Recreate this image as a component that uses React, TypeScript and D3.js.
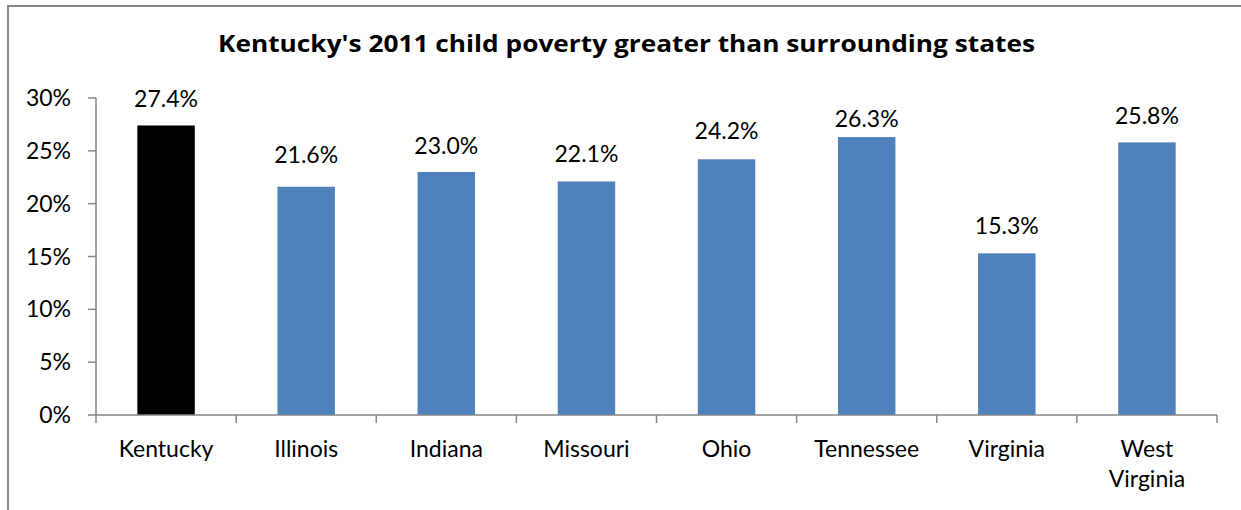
import React from "react";
import * as d3 from "d3";

const categories = ["Kentucky", "Illinois", "Indiana", "Missouri", "Ohio", "Tennessee", "Virginia", "West Virginia"];
const values = [27.4, 21.6, 23.0, 22.1, 24.2, 26.3, 15.3, 25.8];
const yTicks = [0, 5, 10, 15, 20, 25, 30];
const barColors = ["#000000", "#4F81BD", "#4F81BD", "#4F81BD", "#4F81BD", "#4F81BD", "#4F81BD", "#4F81BD"];
const labelLines: string[][] = [["Kentucky"], ["Illinois"], ["Indiana"], ["Missouri"], ["Ohio"], ["Tennessee"], ["Virginia"], ["West", "Virginia"]];
// distance (px) from bar top to the value label's baseline
const labelGaps = [18, 24, 18, 19, 20, 10, 19, 18];

const W = 1241;
const H = 510;
const FONT = "Lato, 'Open Sans', sans-serif";

export default function App() {
  const x = d3.scaleBand<string>().domain(categories).range([96, 1217]).paddingInner(0.59).paddingOuter(0.295);
  const y = d3.scaleLinear().domain([0, 30]).range([415, 98]);
  const bandStep = x.step();
  const axisColor = "#868686";
  const cx = (c: string) => (x(c) as number) + x.bandwidth() / 2;
  return (
    <svg width={W} height={H} style={{ position: "absolute", left: 0, top: 0 }} fontFamily={FONT}>
      <rect x={0} y={0} width={W} height={H} fill="#fff" />
      <path d={`M8,${H} V6 H${W}`} fill="none" stroke={axisColor} strokeWidth={2} />
      <text x={626.5} y={52} textAnchor="middle" fontSize={23} fontWeight="bold" fill="#000"
        fontFamily="'Open Sans', sans-serif" textLength={817} lengthAdjust="spacingAndGlyphs">
        Kentucky's 2011 child poverty greater than surrounding states
      </text>
      {categories.map((c, i) => (
        <rect key={c} x={x(c)} y={y(values[i])} width={x.bandwidth()} height={y(0) - y(values[i])} fill={barColors[i]} />
      ))}
      {/* y axis */}
      <line x1={96} x2={96} y1={y(30)} y2={y(0)} stroke={axisColor} strokeWidth={1.5} />
      {yTicks.map((t) => (
        <g key={t}>
          <line x1={88} x2={96} y1={y(t)} y2={y(t)} stroke={axisColor} strokeWidth={1.5} />
          <text x={71} y={y(t) + 8} textAnchor="end" fontSize={23} fill="#000">{`${t}%`}</text>
        </g>
      ))}
      {/* x axis */}
      <line x1={96} x2={1217} y1={y(0)} y2={y(0)} stroke={axisColor} strokeWidth={1.5} />
      {d3.range(categories.length + 1).map((i) => (
        <line key={i} x1={96 + i * bandStep} x2={96 + i * bandStep} y1={y(0)} y2={y(0) + 8} stroke={axisColor} strokeWidth={1.5} />
      ))}
      {categories.map((c, i) => (
        <text key={c} x={cx(c)} textAnchor="middle" fontSize={23} fill="#000">
          {labelLines[i].map((l, j) => (
            <tspan key={j} x={cx(c)} y={457 + j * 30}>{l}</tspan>
          ))}
        </text>
      ))}
      {categories.map((c, i) => (
        <text key={c + "v"} x={cx(c)} y={y(values[i]) - labelGaps[i]} textAnchor="middle" fontSize={23} fill="#000">
          {`${values[i].toFixed(1)}%`}
        </text>
      ))}
    </svg>
  );
}
